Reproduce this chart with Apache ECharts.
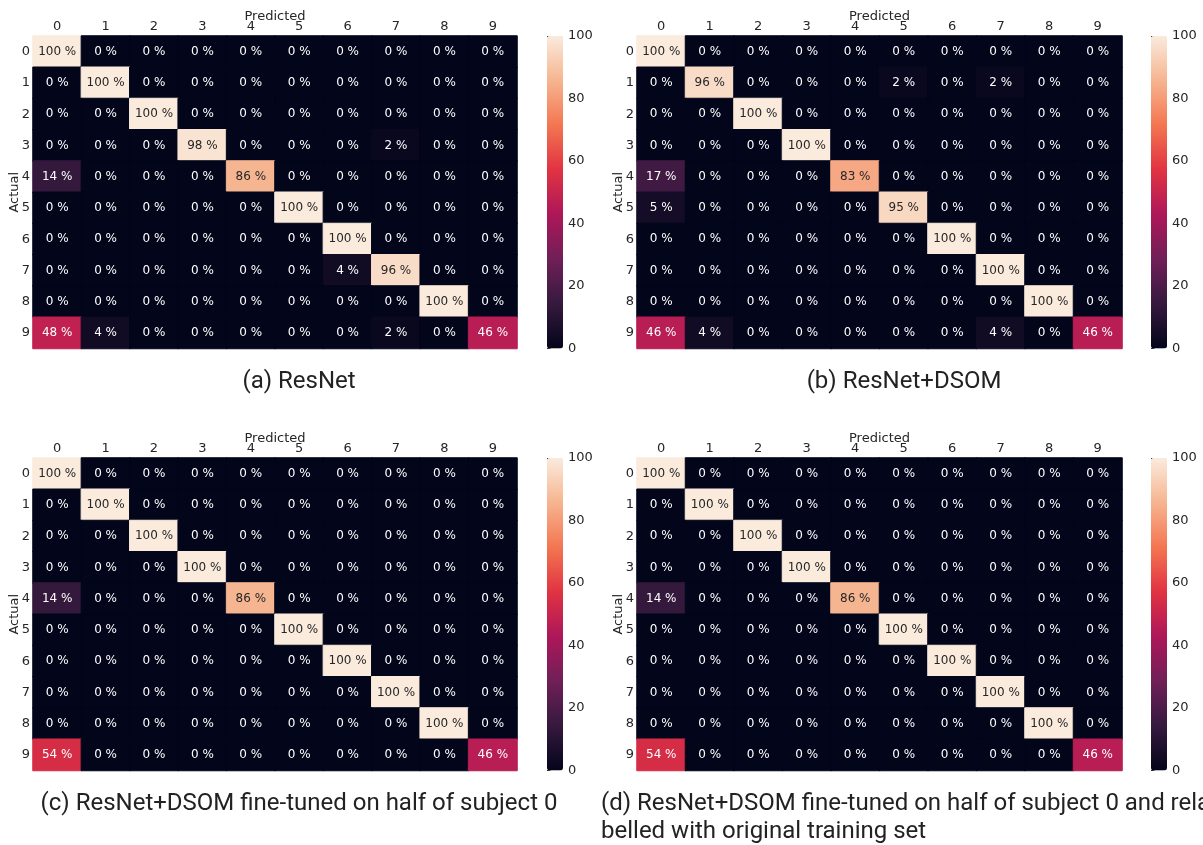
<!DOCTYPE html>
<html>
<head>
<meta charset="utf-8">
<script src="https://cdn.jsdelivr.net/npm/echarts@6/dist/echarts.min.js"></script>
<style>
  html, body { margin: 0; padding: 0; background: #ffffff; }
  #chart { width: 1203px; height: 845px; }
</style>
</head>
<body>
<div id="chart"></div>
<script>
// ---- Data ----
const categories = ['0', '1', '2', '3', '4', '5', '6', '7', '8', '9'];
const colorbarTicks = [0, 20, 40, 60, 80, 100];

// (a) ResNet  (rows = actual, cols = predicted, %)
const resnet = [
  [100, 0, 0, 0, 0, 0, 0, 0, 0, 0],
  [0, 100, 0, 0, 0, 0, 0, 0, 0, 0],
  [0, 0, 100, 0, 0, 0, 0, 0, 0, 0],
  [0, 0, 0, 98, 0, 0, 0, 2, 0, 0],
  [14, 0, 0, 0, 86, 0, 0, 0, 0, 0],
  [0, 0, 0, 0, 0, 100, 0, 0, 0, 0],
  [0, 0, 0, 0, 0, 0, 100, 0, 0, 0],
  [0, 0, 0, 0, 0, 0, 4, 96, 0, 0],
  [0, 0, 0, 0, 0, 0, 0, 0, 100, 0],
  [48, 4, 0, 0, 0, 0, 0, 2, 0, 46]
];
// (b) ResNet+DSOM
const resnetDsom = [
  [100, 0, 0, 0, 0, 0, 0, 0, 0, 0],
  [0, 96, 0, 0, 0, 2, 0, 2, 0, 0],
  [0, 0, 100, 0, 0, 0, 0, 0, 0, 0],
  [0, 0, 0, 100, 0, 0, 0, 0, 0, 0],
  [17, 0, 0, 0, 83, 0, 0, 0, 0, 0],
  [5, 0, 0, 0, 0, 95, 0, 0, 0, 0],
  [0, 0, 0, 0, 0, 0, 100, 0, 0, 0],
  [0, 0, 0, 0, 0, 0, 0, 100, 0, 0],
  [0, 0, 0, 0, 0, 0, 0, 0, 100, 0],
  [46, 4, 0, 0, 0, 0, 0, 4, 0, 46]
];
// (c) ResNet+DSOM fine-tuned on half of subject 0
const fineTuned = [
  [100, 0, 0, 0, 0, 0, 0, 0, 0, 0],
  [0, 100, 0, 0, 0, 0, 0, 0, 0, 0],
  [0, 0, 100, 0, 0, 0, 0, 0, 0, 0],
  [0, 0, 0, 100, 0, 0, 0, 0, 0, 0],
  [14, 0, 0, 0, 86, 0, 0, 0, 0, 0],
  [0, 0, 0, 0, 0, 100, 0, 0, 0, 0],
  [0, 0, 0, 0, 0, 0, 100, 0, 0, 0],
  [0, 0, 0, 0, 0, 0, 0, 100, 0, 0],
  [0, 0, 0, 0, 0, 0, 0, 0, 100, 0],
  [54, 0, 0, 0, 0, 0, 0, 0, 0, 46]
];
// (d) fine-tuned and relabelled
const fineTunedRelabelled = [
  [100, 0, 0, 0, 0, 0, 0, 0, 0, 0],
  [0, 100, 0, 0, 0, 0, 0, 0, 0, 0],
  [0, 0, 100, 0, 0, 0, 0, 0, 0, 0],
  [0, 0, 0, 100, 0, 0, 0, 0, 0, 0],
  [14, 0, 0, 0, 86, 0, 0, 0, 0, 0],
  [0, 0, 0, 0, 0, 100, 0, 0, 0, 0],
  [0, 0, 0, 0, 0, 0, 100, 0, 0, 0],
  [0, 0, 0, 0, 0, 0, 0, 100, 0, 0],
  [0, 0, 0, 0, 0, 0, 0, 0, 100, 0],
  [54, 0, 0, 0, 0, 0, 0, 0, 0, 46]
];

const captions = [
  '(a) ResNet',
  '(b) ResNet+DSOM',
  '(c) ResNet+DSOM fine-tuned on half of subject 0',
  '(d) ResNet+DSOM fine-tuned on half of subject 0 and rela\nbelled with original training set'
];

// ---- Layout / style ----
const matrices = [resnet, resnetDsom, fineTuned, fineTunedRelabelled];
const panels = [
  { left: 33, top: 36, width: 484, cbLeft: 547 },
  { left: 637, top: 36, width: 485, cbLeft: 1151 },
  { left: 33, top: 458, width: 484, cbLeft: 547 },
  { left: 637, top: 458, width: 485, cbLeft: 1151 }
];
const gridH = 312.5;
const rocket = ['#03051a', '#35193e', '#701f57', '#ad1759', '#e13342', '#f37651', '#f6b48f', '#faebdd'];
const tickFont = 'DejaVu Sans';
const txtColor = '#262626';

const grids = [], xAxes = [], yAxes = [], series = [], visualMaps = [];

panels.forEach((p, i) => {
  grids.push({ left: p.left, top: p.top, width: p.width, height: gridH, containLabel: false });
  xAxes.push({
    type: 'category', data: categories, gridIndex: i, position: 'top',
    axisLine: { show: false }, axisTick: { show: false }, splitArea: { show: false },
    axisLabel: { color: txtColor, fontSize: 13, fontFamily: tickFont, margin: 3 },
    name: 'Predicted', nameLocation: 'middle', nameGap: 12.5, nameMoveOverlap: false,
    nameTextStyle: { color: txtColor, fontSize: 13, fontFamily: tickFont }
  });
  yAxes.push({
    type: 'category', data: categories, gridIndex: i, inverse: true,
    axisLine: { show: false }, axisTick: { show: false }, splitArea: { show: false },
    axisLabel: { color: txtColor, fontSize: 13, fontFamily: tickFont, margin: 3 },
    name: 'Actual', nameLocation: 'middle', nameGap: 12, nameRotate: 90, nameMoveOverlap: false,
    nameTextStyle: { color: txtColor, fontSize: 13, fontFamily: tickFont }
  });
  const data = [];
  matrices[i].forEach((row, r) => {
    row.forEach((v, c) => {
      data.push({
        value: [c, r, v],
        label: { color: v > 70 ? txtColor : '#ffffff' },
        itemStyle: { borderWidth: 1, borderColor: echarts.color.lerp(v / 100, rocket) }
      });
    });
  });
  series.push({
    type: 'heatmap', xAxisIndex: i, yAxisIndex: i, data: data,
    label: {
      show: true, fontSize: 12, fontFamily: tickFont,
      formatter: (prm) => prm.value[2] + ' %'
    },
    emphasis: { disabled: true }
  });
  visualMaps.push({
    type: 'continuous', min: 0, max: 100, seriesIndex: i, dimension: 2,
    left: p.cbLeft, top: p.top, itemWidth: 16, itemHeight: gridH,
    padding: 0, calculable: false, hoverLink: false, text: null,
    inRange: { color: rocket }
  });
});

// colorbar axes (ticks and labels)
panels.forEach((p, i) => {
  const gi = grids.length;
  grids.push({ left: p.cbLeft, top: p.top, width: 16, height: gridH });
  xAxes.push({ type: 'value', gridIndex: gi, show: false, min: 0, max: 1 });
  yAxes.push({
    type: 'value', gridIndex: gi, position: 'right',
    min: colorbarTicks[0], max: colorbarTicks[colorbarTicks.length - 1],
    interval: colorbarTicks[1] - colorbarTicks[0],
    axisLine: { show: false }, splitLine: { show: false },
    axisTick: { show: true, length: 3.5, lineStyle: { color: txtColor, width: 1 } },
    axisLabel: { color: txtColor, fontSize: 13, fontFamily: tickFont, margin: 5 }
  });
});

const capFont = '24px Roboto';
const capColor = '#222222';
const captionEls = [
  { type: 'text', style: { text: captions[0], x: 299, y: 382, align: 'center', verticalAlign: 'middle', font: capFont, fill: capColor } },
  { type: 'text', style: { text: captions[1], x: 904, y: 382, align: 'center', verticalAlign: 'middle', font: capFont, fill: capColor } },
  { type: 'text', style: { text: captions[2], x: 299, y: 804, align: 'center', verticalAlign: 'middle', font: capFont, fill: capColor } },
  { type: 'text', style: { text: captions[3], x: 601, y: 790, align: 'left', verticalAlign: 'top', font: capFont, lineHeight: 28, fill: capColor } }
];

const chart = echarts.init(document.getElementById('chart'), null, { renderer: 'canvas' });
chart.setOption({
  animation: false,
  backgroundColor: '#ffffff',
  grid: grids,
  xAxis: xAxes,
  yAxis: yAxes,
  visualMap: visualMaps,
  series: series,
  graphic: captionEls
});
</script>
</body>
</html>
